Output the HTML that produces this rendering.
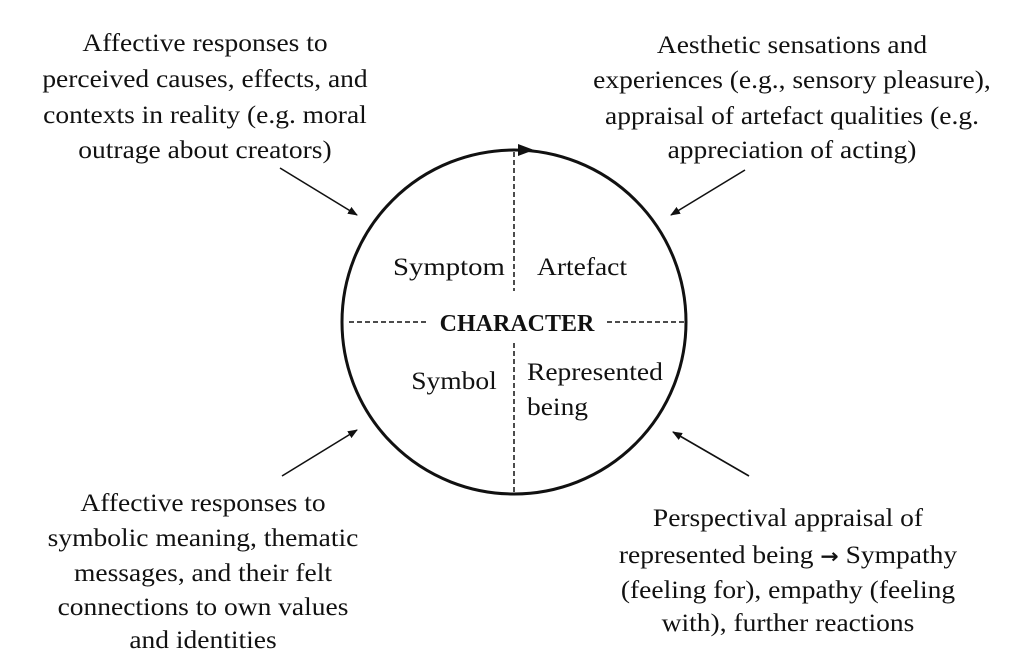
<!DOCTYPE html>
<html><head><meta charset="utf-8"><style>
html,body{margin:0;padding:0;background:#fff;}
body{width:1024px;height:660px;overflow:hidden;}
svg text{font-family:"Liberation Serif",serif;font-size:25px;fill:#111;}
</style></head><body>
<svg width="1024" height="660" viewBox="0 0 1024 660" xmlns="http://www.w3.org/2000/svg">
<defs>
<marker id="ah" markerWidth="10" markerHeight="8" refX="9" refY="4" orient="auto" markerUnits="userSpaceOnUse">
<path d="M0,0 L10,4 L0,8 Z" fill="#111"/>
</marker>
<marker id="ah2" markerWidth="16" markerHeight="12" refX="14" refY="6" orient="auto" markerUnits="userSpaceOnUse">
<path d="M0,0 L16,6 L0,12 Z" fill="#111"/>
</marker>
</defs>
<circle cx="514" cy="322" r="172" fill="none" stroke="#111" stroke-width="3"/>
<line x1="500" y1="150" x2="532" y2="150" stroke="none" marker-end="url(#ah2)"/>
<line x1="514" y1="152" x2="514" y2="291" stroke="#111" stroke-width="1.5" stroke-dasharray="5,3"/>
<line x1="514" y1="343" x2="514" y2="494" stroke="#111" stroke-width="1.5" stroke-dasharray="5,3"/>
<line x1="349" y1="322" x2="428" y2="322" stroke="#111" stroke-width="1.5" stroke-dasharray="5,3"/>
<line x1="607" y1="322" x2="684" y2="322" stroke="#111" stroke-width="1.5" stroke-dasharray="5,3"/>
<text x="517" y="331" text-anchor="middle" style="font-weight:bold;font-size:24px">CHARACTER</text>
<g transform="matrix(1.15,0,0,1,-67.4,0)"><text x="449" y="275" text-anchor="middle">Symptom</text></g>
<g transform="matrix(1.1,0,0,1,-58.2,0)"><text x="582" y="275" text-anchor="middle">Artefact</text></g>
<g transform="matrix(1.1,0,0,1,-45.4,0)"><text x="454" y="389" text-anchor="middle">Symbol</text></g>
<g transform="matrix(1.1,0,0,1,-52.7,0)"><text x="527" y="380">Represented</text>
<text x="527" y="415">being</text></g>

<line x1="280" y1="168" x2="357" y2="215" stroke="#111" stroke-width="1.6" marker-end="url(#ah)"/>
<line x1="745" y1="170" x2="671" y2="215" stroke="#111" stroke-width="1.6" marker-end="url(#ah)"/>
<line x1="282" y1="476" x2="357" y2="430" stroke="#111" stroke-width="1.6" marker-end="url(#ah)"/>
<line x1="749" y1="476" x2="673" y2="432" stroke="#111" stroke-width="1.6" marker-end="url(#ah)"/>

<g text-anchor="middle">
<g transform="matrix(1.1,0,0,1,-20.5,0)">
<text x="205" y="51">Affective responses to</text>
<text x="205" y="87">perceived causes, effects, and</text>
<text x="205" y="123">contexts in reality (e.g. moral</text>
<text x="205" y="158">outrage about creators)</text>
</g>
<g transform="matrix(1.1,0,0,1,-79.2,0)">
<text x="792" y="53">Aesthetic sensations and</text>
<text x="792" y="88">experiences (e.g., sensory pleasure),</text>
<text x="792" y="124">appraisal of artefact qualities (e.g.</text>
<text x="792" y="158">appreciation of acting)</text>
</g>
<g transform="matrix(1.1,0,0,1,-20.3,0)">
<text x="203" y="511">Affective responses to</text>
<text x="203" y="546">symbolic meaning, thematic</text>
<text x="203" y="581">messages, and their felt</text>
<text x="203" y="615">connections to own values</text>
<text x="203" y="648">and identities</text>
</g>
<g transform="matrix(1.1,0,0,1,-78.8,0)">
<text x="788" y="526">Perspectival appraisal of</text>
<text x="788" y="563">represented being <tspan style="font-family:'DejaVu Sans',sans-serif;font-weight:bold;font-size:20px">→</tspan> Sympathy</text>
<text x="788" y="598">(feeling for), empathy (feeling</text>
<text x="788" y="631">with), further reactions</text>
</g>
</g>
</svg>
</body></html>
